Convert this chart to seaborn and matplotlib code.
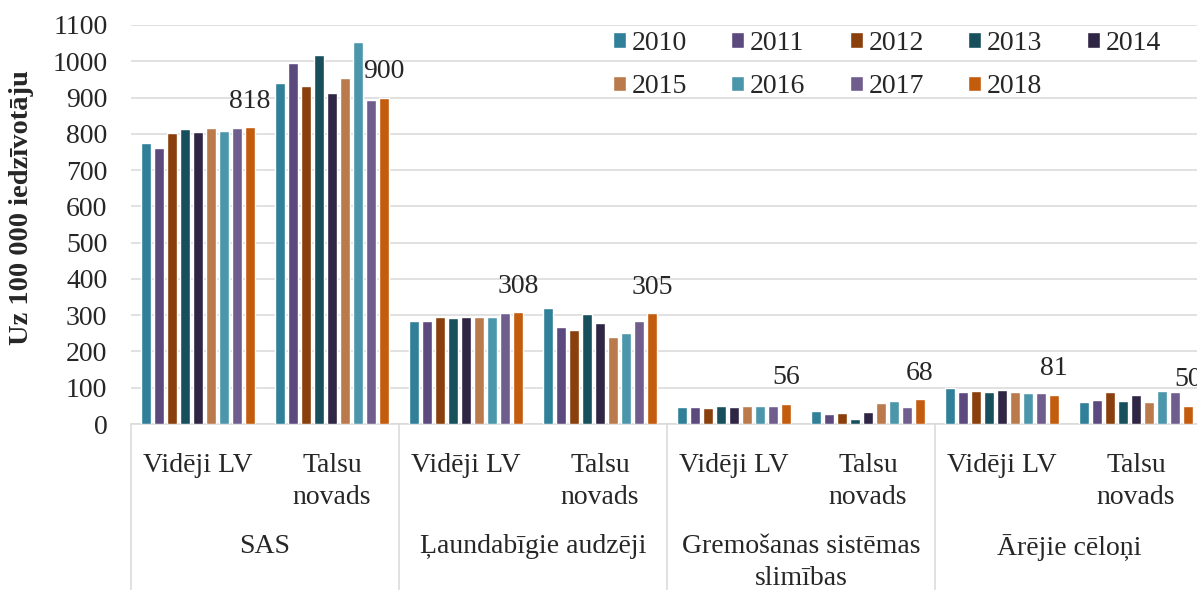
import pandas as pd
import matplotlib.pyplot as plt
import seaborn as sns

# Categories
years = ["2010", "2011", "2012", "2013", "2014", "2015", "2016", "2017", "2018"]
causes = ["SAS", "Ļaundabīgie audzēji", "Gremošanas sistēmas\nslimības", "Ārējie cēloņi"]
regions = ["Vidēji LV", "Talsu\nnovads"]

# Values per 100 000 inhabitants, 2010..2018
sas_lv = [776, 760, 801, 814, 805, 816, 807, 815, 818]
sas_talsi = [941, 994, 933, 1016, 913, 955, 1054, 894, 900]
tumor_lv = [285, 284, 294, 292, 296, 295, 295, 306, 308]
tumor_talsi = [320, 267, 258, 303, 278, 241, 250, 285, 305]
digest_lv = [48, 46, 45, 51, 48, 51, 51, 51, 56]
digest_talsi = [36, 28, 29, 15, 33, 58, 64, 48, 68]
external_lv = [99, 89, 92, 88, 93, 88, 85, 85, 81]
external_talsi = [62, 66, 87, 64, 81, 60, 90, 88, 50]

colors = ["#2f8098", "#5c4a7e", "#8a3f0c", "#174f5c", "#2f2544",
          "#bb7a4c", "#4b96aa", "#6e5d8d", "#c45c0e"]

series = [sas_lv, sas_talsi, tumor_lv, tumor_talsi,
          digest_lv, digest_talsi, external_lv, external_talsi]
keys = [c + "|" + r for c in causes for r in regions]

rows = []
for key, vals in zip(keys, series):
    for y, v in zip(years, vals):
        rows.append({"cat": key, "year": y, "value": v})
df = pd.DataFrame(rows)

sns.set_theme(style="white")
plt.rcParams["font.family"] = ["Liberation Serif", "DejaVu Serif"]
FS = 20

W, H = 1197, 590
fig = plt.figure(figsize=(W / 100, H / 100), dpi=100)
left_px, right_px, top_px, bottom_px = 131, 1203, 25, 424
ax = fig.add_axes([left_px / W, 1 - bottom_px / H,
                   (right_px - left_px) / W, (bottom_px - top_px) / H])

sns.barplot(data=df, x="cat", y="value", hue="year", order=keys,
            hue_order=years, palette=colors, width=0.87, gap=0.22,
            saturation=1, errorbar=None, ax=ax, zorder=3)

ax.set_ylim(0, 1100)
ax.set_xlim(-0.5, 7.5)
ax.set_yticks(range(0, 1101, 100))
ax.tick_params(axis="y", labelsize=FS, length=0, pad=17)
ax.set_xticks([])
ax.set_xlabel("")
ax.set_ylabel("")
ax.yaxis.grid(True, color="#d9d9d9", linewidth=1.1, zorder=0)
for s in ["top", "right", "left"]:
    ax.spines[s].set_visible(False)
ax.spines["bottom"].set_color("#d9d9d9")
ax.spines["bottom"].set_linewidth(1.1)

# labels for the 2018 series
last = ax.containers[-1]
for bar, v in zip(last, series):
    ax.annotate(str(v[-1]), (bar.get_x() + bar.get_width() / 2, bar.get_height()),
                xytext=(0, 26), textcoords="offset pixels",
                ha="center", va="center", fontsize=FS, clip_on=False)

# multi-level category axis
trans = ax.get_xaxis_transform()
ah = bottom_px - top_px
for i, cause in enumerate(causes):
    for j, reg in enumerate(regions):
        ax.text(2 * i + j, -29 / ah, reg, transform=trans, ha="center", va="top",
                fontsize=FS, linespacing=1.38)
    ax.text(2 * i + 0.5, -110 / ah, cause, transform=trans, ha="center", va="top",
            fontsize=FS, linespacing=1.38)
    ax.plot([2 * i - 0.5, 2 * i - 0.5], [0, -(H - bottom_px) / ah], transform=trans,
            color="#d9d9d9", linewidth=1.1, clip_on=False)

# y label
fig.text(22 / W, 1 - 208 / H, "Uz 100 000 iedzīvotāju", rotation=90,
         ha="center", va="center", fontsize=FS + 0.5, fontweight="bold")

# legend, row-major order
handles, labels = ax.get_legend_handles_labels()
order = [0, 5, 1, 6, 2, 7, 3, 8, 4]
ax.legend([handles[k] for k in order], [labels[k] for k in order],
          ncol=5, frameon=False, fontsize=FS, loc="upper left",
          bbox_to_anchor=(613 / W, 1 - 31 / H), bbox_transform=fig.transFigure,
          borderpad=0, borderaxespad=0, handlelength=0.47, handleheight=0.47,
          handletextpad=0.2, columnspacing=1.6, labelspacing=0.65)

plt.savefig("out.png", dpi=100)
plt.close()
